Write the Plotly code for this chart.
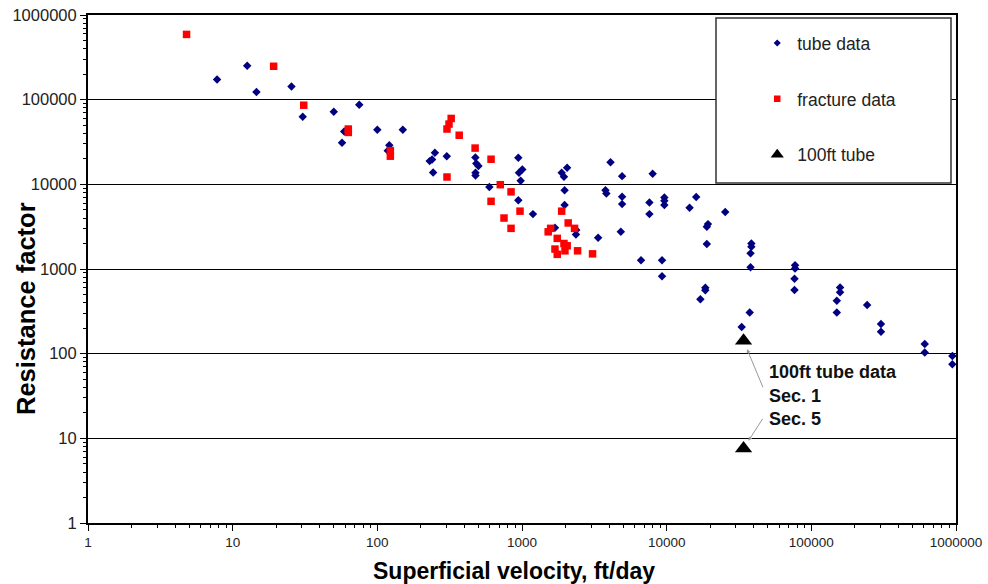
import math
import plotly.graph_objects as go

# ---------------- data ----------------
tube_x = [7.8, 12.6, 14.6, 25.5, 30.5, 50, 57, 59, 75, 100, 121, 118, 150,
          239, 230, 250, 243, 302, 476, 483, 500, 477, 477, 595,
          943, 953, 1005, 979, 943, 1190, 1690, 1880, 1950, 2050, 1970, 1970,
          2370, 2360, 3360, 4090, 3775, 3830, 4920, 4920, 4920, 4820,
          8000, 7600, 7600, 9640, 9640, 9640, 16000, 14400, 25400, 19300, 18950, 18950,
          6650, 9290, 9290, 18500, 18500, 17100,
          38500, 38500, 38000, 38000, 37500, 33000,
          77200, 77200, 76500, 76500, 158000, 158000, 150000, 150000,
          243000, 303000, 303000, 608000, 608000, 944000, 944000]
tube_y = [173000, 251000, 123000, 143000, 63000, 72000, 31000, 42000, 87000, 44000, 29000, 25000, 44000,
          19700, 18800, 23600, 13800, 21500, 20800, 17600, 16500, 13700, 12700, 9300,
          20600, 13700, 15000, 11000, 6500, 4450, 3070, 13700, 12300, 15700, 8500, 5700,
          2880, 2560, 2340, 18200, 8500, 7800, 12500, 7130, 5840, 2750,
          13300, 6100, 4450, 7000, 6400, 5700, 7100, 5300, 4700, 3390, 3150, 1970,
          1270, 1270, 820, 600, 560, 440,
          2000, 1830, 1530, 1050, 307, 206,
          1110, 1016, 766, 564, 606, 530, 421, 307,
          375, 224, 181, 130, 103, 94, 75]

frac_x = [4.8, 19.2, 31, 63, 63, 123, 123, 324, 313, 303, 368, 303, 474, 611, 611,
          708, 840, 751, 840, 969, 1880, 1517, 1578, 1753, 1690, 1753, 1950, 2052,
          1981, 2086, 2308, 2422, 3074]
frac_y = [590000, 248000, 86000, 45000, 41000, 25000, 21500, 60000, 51500, 45000, 38000, 12200,
          26800, 19800, 6300, 9900, 8150, 4000, 3020, 4820, 4820, 2750, 3020, 2300, 1720,
          1490, 2000, 1880, 1640, 3500, 3020, 1640, 1510]

tube100_x = [34000, 34000]
tube100_y = [142, 7.6]

tick_vals = [1, 10, 100, 1000, 10000, 100000, 1000000]
tick_text = ["1", "10", "100", "1000", "10000", "100000", "1000000"]
minor_vals = [m * 10 ** k for k in range(6) for m in range(2, 10)]

FONT = "Arial, Liberation Sans, sans-serif"
NAVY = "#000080"
RED = "#FF0000"

fig = go.Figure()
# data traces
fig.add_trace(go.Scatter(x=tube_x, y=tube_y, mode="markers", name="tube data", showlegend=False,
                         marker=dict(symbol="diamond", size=6.5, color=NAVY)))
fig.add_trace(go.Scatter(x=frac_x, y=frac_y, mode="markers", name="fracture data", showlegend=False,
                         marker=dict(symbol="square", size=7.5, color=RED)))
fig.add_trace(go.Scatter(x=tube100_x, y=tube100_y, mode="markers", name="100ft tube", showlegend=False,
                         marker=dict(symbol="triangle-up", size=15, color="#000000")))
# legend entries
for nm, sym, sz, col, grp in [("tube data", "diamond", 5.5, NAVY, "a"),
                              ("fracture data", "square", 6.5, RED, "b"),
                              ("100ft tube", "triangle-up", 11.5, "#000000", "c")]:
    fig.add_trace(go.Scatter(x=[None], y=[None], mode="markers", name=nm, legendgroup=grp,
                             marker=dict(symbol=sym, size=sz, color=col)))

axis_common = dict(
    type="log", range=[0, 6], tickvals=tick_vals, ticktext=tick_text, automargin=False,
    showline=True, linecolor="black", linewidth=2, mirror=True,
    ticks="outside", ticklen=6, tickcolor="black", tickwidth=1,
    minor=dict(ticks="outside", ticklen=3, tickcolor="black", tickvals=minor_vals, showgrid=False),
    zeroline=False,
)

fig.update_layout(
    width=988, height=584,
    margin=dict(l=88, r=32, t=15, b=61),
    plot_bgcolor="white", paper_bgcolor="white",
    font=dict(family=FONT),
    xaxis=dict(**axis_common, showgrid=False,
               tickfont=dict(family=FONT, size=13.5, color="#222")),
    yaxis=dict(**axis_common, showgrid=True, gridcolor="black", gridwidth=1,
               tickfont=dict(family=FONT, size=16.5, color="#222")),
    showlegend=True,
    legend=dict(x=0.771, y=0.98, xanchor="left", yanchor="top",
                bgcolor="rgba(0,0,0,0)", borderwidth=0,
                font=dict(family=FONT, size=17.5, color="#222"),
                tracegroupgap=30),
)

# axis titles
fig.add_annotation(xref="paper", yref="paper", x=(513.5 - 88) / 868, y=(523 - 571) / 508,
                   xanchor="center", yanchor="middle", showarrow=False,
                   text="<b>Superficial velocity, ft/day</b>",
                   font=dict(family=FONT, size=23, color="black"))
fig.add_annotation(xref="paper", yref="paper", x=(25.5 - 88) / 868, y=(523 - 308.5) / 508,
                   xanchor="center", yanchor="middle", showarrow=False, textangle=-90,
                   text="<b>Resistance factor</b>",
                   font=dict(family=FONT, size=25.5, color="black"))

# legend frame
fig.add_shape(type="rect", xref="paper", yref="paper",
              x0=(716 - 88) / 868, x1=(951 - 88) / 868,
              y0=(523 - 183) / 508, y1=(523 - 18) / 508,
              line=dict(color="#333", width=1.5), fillcolor="white", layer="above")

# arrows to the 100ft tube points (log axes: annotation coords in log10)
fig.add_annotation(x=math.log10(tube100_x[0]), y=math.log10(tube100_y[0]), xref="x", yref="y",
                   ax=20, ay=48, text="", showarrow=True, arrowhead=2, arrowsize=0.8,
                   arrowwidth=1, arrowcolor="#999", standoff=9)
fig.add_annotation(x=math.log10(tube100_x[1]), y=math.log10(tube100_y[1]), xref="x", yref="y",
                   ax=20, ay=-31, text="", showarrow=True, arrowhead=2, arrowsize=0.8,
                   arrowwidth=1, arrowcolor="#999", standoff=9)

for txt, py in [("100ft tube data", 372), ("Sec. 1", 396), ("Sec. 5", 419)]:
    fig.add_annotation(xref="paper", yref="paper", x=(767 - 88) / 868, y=(523 - py) / 508,
                       xanchor="left", yanchor="middle", text=f"<b>{txt}</b>",
                       showarrow=False, font=dict(family=FONT, size=18, color="#111"))

fig.write_html("out.html")
